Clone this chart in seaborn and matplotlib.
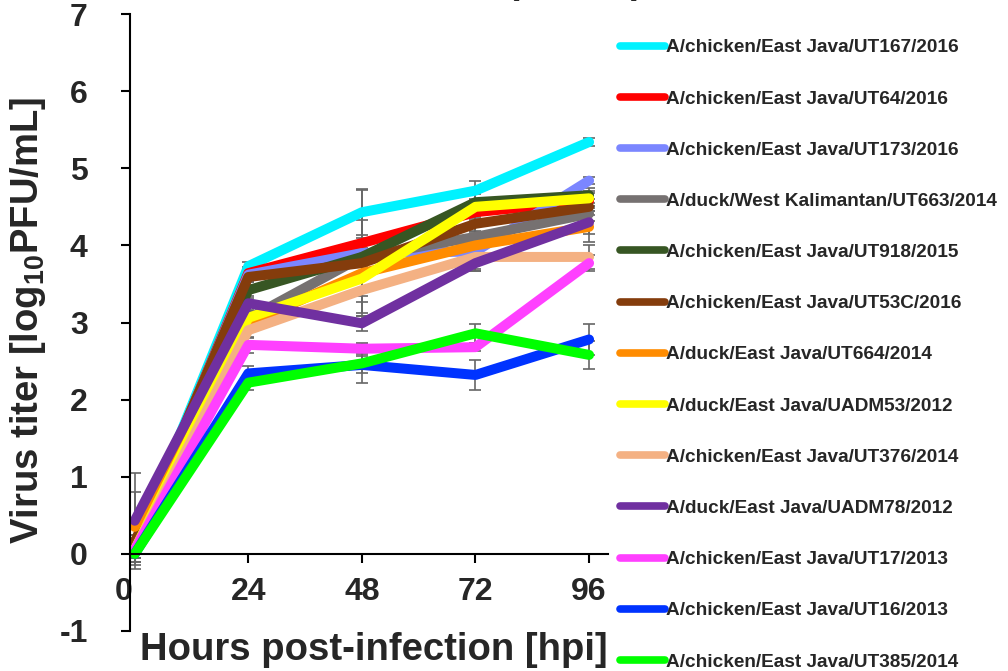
import numpy as np
import pandas as pd
import matplotlib
matplotlib.use("Agg")
import matplotlib.pyplot as plt
import matplotlib.transforms as mtransforms
import seaborn as sns

hours = [0, 24, 48, 72, 96]
strains = [
    "A/chicken/East Java/UT167/2016",
    "A/chicken/East Java/UT64/2016",
    "A/chicken/East Java/UT173/2016",
    "A/duck/West Kalimantan/UT663/2014",
    "A/chicken/East Java/UT918/2015",
    "A/chicken/East Java/UT53C/2016",
    "A/duck/East Java/UT664/2014",
    "A/duck/East Java/UADM53/2012",
    "A/chicken/East Java/UT376/2014",
    "A/duck/East Java/UADM78/2012",
    "A/chicken/East Java/UT17/2013",
    "A/chicken/East Java/UT16/2013",
    "A/chicken/East Java/UT385/2014",
]
colors = ["#00F2FF", "#FF0000", "#7B86FF", "#767171", "#375623", "#843C0C",
          "#FF8C00", "#FFFF00", "#F4B183", "#7030A0", "#FF40FF", "#0033FF", "#00FF00"]

ut167 = [0.10, 3.73, 4.43, 4.71, 5.34]
ut64 = [0.10, 3.64, 4.03, 4.43, 4.58]
ut173 = [0.10, 3.62, 3.90, 3.92, 4.84]
ut663 = [0.15, 3.05, 3.85, 4.11, 4.41]
ut918 = [0.10, 3.42, 3.85, 4.56, 4.65]
ut53c = [0.15, 3.59, 3.77, 4.28, 4.50]
ut664 = [0.35, 2.99, 3.64, 4.00, 4.24]
uadm53 = [0.05, 3.06, 3.57, 4.50, 4.61]
ut376 = [0.05, 2.90, 3.42, 3.85, 3.85]
uadm78 = [0.43, 3.25, 2.99, 3.77, 4.30]
ut17 = [0.05, 2.71, 2.66, 2.68, 3.77]
ut16 = [0.00, 2.34, 2.45, 2.32, 2.78]
ut385 = [0.00, 2.22, 2.47, 2.86, 2.58]
values = [ut167, ut64, ut173, ut663, ut918, ut53c, ut664, uadm53, ut376, uadm78, ut17, ut16, ut385]

errors = [
    [0.10, 0.05, 0.30, 0.12, 0.05],
    [0.10, 0.05, 0.30, 0.10, 0.10],
    [0.10, 0.10, 0.82, 0.25, 0.05],
    [0.10, 0.10, 0.25, 0.25, 0.10],
    [0.10, 0.10, 0.20, 0.10, 0.10],
    [0.10, 0.10, 0.20, 0.10, 0.10],
    [0.45, 0.10, 0.30, 0.10, 0.20],
    [0.10, 0.10, 0.30, 0.10, 0.10],
    [0.10, 0.10, 0.30, 0.15, 0.15],
    [0.62, 0.10, 0.10, 0.10, 0.15],
    [0.10, 0.10, 0.07, 0.05, 0.10],
    [0.10, 0.10, 0.11, 0.19, 0.20],
    [0.15, 0.10, 0.25, 0.12, 0.18],
]

rows = []
for s, v, e in zip(strains, values, errors):
    for h, y, err in zip(hours, v, e):
        rows.append({"hpi": h, "titer": y, "err": err, "strain": s})
df = pd.DataFrame(rows)

sns.set_theme(style="white")
plt.rcParams["font.family"] = ["Liberation Sans", "DejaVu Sans"]
plt.rcParams["font.weight"] = "bold"
plt.rcParams["mathtext.fontset"] = "custom"
plt.rcParams["mathtext.rm"] = "Liberation Sans:bold"
plt.rcParams["mathtext.bf"] = "Liberation Sans:bold"
plt.rcParams["mathtext.default"] = "bf"

fig = plt.figure(figsize=(10.08, 6.71), dpi=100)
ax = fig.add_axes([130 / 1008, 1 - 631 / 671, 478 / 1008, 617 / 671])

# error bars
for s, v, e in zip(strains, values, errors):
    ax.errorbar(hours, v, yerr=e, fmt="none", ecolor="#666666", elinewidth=1.2,
                capsize=4, capthick=1.2, zorder=1)

sns.lineplot(data=df, x="hpi", y="titer", hue="strain", hue_order=strains,
             palette=colors, linewidth=7.2, ax=ax, legend=True,
             solid_capstyle="round", solid_joinstyle="round", zorder=2)

ax.set_xlim(-1, 100)
ax.set_ylim(-1, 7)
ax.set_xticks([0, 24, 48, 72, 96])
ax.set_yticks(range(-1, 8))
ax.set_xticklabels(["0", "24", "48", "72", "96"])
ax.set_yticklabels([str(i) for i in range(-1, 8)])
for sp in ["top", "right"]:
    ax.spines[sp].set_visible(False)
ax.spines["bottom"].set_position(("data", 0))
for sp in ["left", "bottom"]:
    ax.spines[sp].set_color("black")
    ax.spines[sp].set_linewidth(1.5)
ax.tick_params(axis="y", which="major", direction="out", length=6.5, width=1.5,
               color="black", left=True, pad=24, labelsize=23)
ax.tick_params(axis="x", which="major", direction="out", length=6.5, width=1.5,
               color="black", bottom=True, pad=10, labelsize=23)
for lab in ax.get_xticklabels() + ax.get_yticklabels():
    lab.set_fontweight("bold")
# shift the "0" hpi label slightly left as in the reference
off = mtransforms.ScaledTranslation(-11 / 100, 0, fig.dpi_scale_trans)
xl0 = ax.get_xticklabels()[0]
xl0.set_transform(xl0.get_transform() + off)

ax.set_xlabel("")
ax.set_ylabel("")
fig.text(374 / 1008, 1 - 650 / 671, "Hours post-infection [hpi]", ha="center",
         va="center", fontsize=27.5, fontweight="bold")
fig.text(28 / 1008, 1 - 320 / 671, r"Virus titer [log$_{10}$PFU/mL]", ha="center",
         va="center", rotation=90, fontsize=27.5, fontweight="bold")
# top title, mostly cropped in the reference (only the parentheses' descenders show)
fig.text(575 / 1008, 1 + 7 / 671, "(MDCK)", ha="center", va="baseline",
         fontsize=27, fontweight="bold")

handles, labels = ax.get_legend_handles_labels()
ax.get_legend().remove()
leg = fig.legend(handles, labels, loc="upper left",
                 bbox_to_anchor=(620 / 1008, 1 - 39 / 671), frameon=False,
                 prop={"size": 13.7, "weight": "bold"}, handlelength=2.35,
                 handletextpad=0.05, labelspacing=1.78, borderpad=0, borderaxespad=0)
for h in leg.get_lines():
    h.set_linewidth(5.5)
    h.set_solid_capstyle("round")

fig.savefig("out.png", dpi=100)
